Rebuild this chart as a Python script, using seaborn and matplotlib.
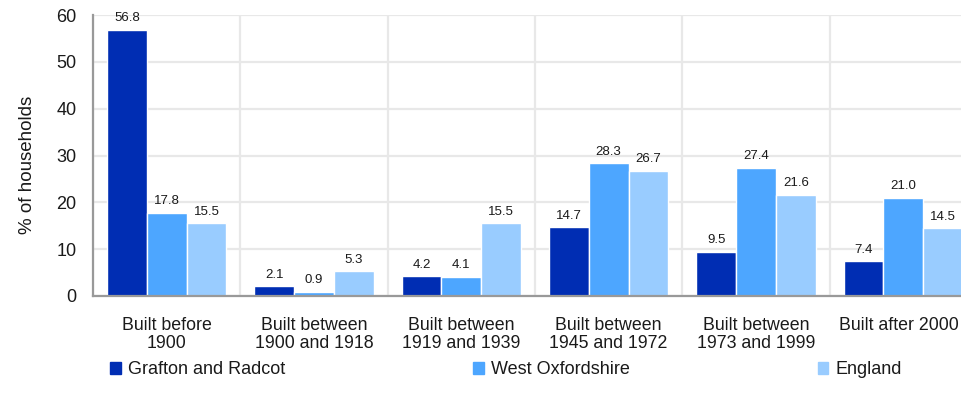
import matplotlib
matplotlib.use("Agg")
import matplotlib.pyplot as plt
import matplotlib.transforms as mtransforms
import seaborn as sns
import pandas as pd
import numpy as np

categories = [
    "Built before\n1900",
    "Built between\n1900 and 1918",
    "Built between\n1919 and 1939",
    "Built between\n1945 and 1972",
    "Built between\n1973 and 1999",
    "Built after 2000",
]
series_names = ["Grafton and Radcot", "West Oxfordshire", "England"]
grafton = [56.8, 2.1, 4.2, 14.7, 9.5, 7.4]
west_oxon = [17.8, 0.9, 4.1, 28.3, 27.4, 21.0]
england = [15.5, 5.3, 15.5, 26.7, 21.6, 14.5]
colors = ["#002DB3", "#4DA6FF", "#99CCFF"]

rows = []
for name, vals in zip(series_names, [grafton, west_oxon, england]):
    for cat, v in zip(categories, vals):
        rows.append({"category": cat, "area": name, "value": v})
df = pd.DataFrame(rows)

sns.set_style("white")
plt.rcParams["font.family"] = ["Liberation Sans", "DejaVu Sans"]

TEXT = "#1a1a1a"
FS = 13

fig = plt.figure(figsize=(9.62, 4.08), dpi=100)
W, H = 962, 408
ax = fig.add_axes([93 / W, (H - 296) / H, 884 / W, 281 / H])

sns.barplot(data=df, x="category", y="value", hue="area", order=categories,
            hue_order=series_names, palette=colors, width=0.81, saturation=1,
            ax=ax, legend=False, errorbar=None)

for cont in ax.containers:
    ax.bar_label(cont, fmt="%.1f", padding=4, fontsize=9.5, color=TEXT)

ax.set_xlim(-0.5, len(categories) - 0.5)
ax.set_ylim(0, 60)
ax.set_yticks(np.arange(0, 61, 10))
ax.set_xticks(np.arange(len(categories) + 1) - 0.5, minor=True)

ax.grid(axis="y", which="major", color="#e8e8e8", lw=1.6, zorder=0)
ax.grid(axis="x", which="minor", color="#e8e8e8", lw=1.6, zorder=0)
ax.set_axisbelow(True)

for s in ["top", "right"]:
    ax.spines[s].set_visible(False)
for s in ["left", "bottom"]:
    ax.spines[s].set_color("#999999")
    ax.spines[s].set_linewidth(1.6)

ax.tick_params(axis="y", which="major", length=5, width=1.3, color="#999999",
               labelsize=FS, labelcolor=TEXT, pad=7)
ax.tick_params(axis="x", which="major", length=0, pad=15, labelsize=12.8,
               labelcolor=TEXT)
ax.tick_params(axis="x", which="minor", length=5, width=1.3, color="#999999")
xlabels = ax.get_xticklabels()
for lbl in xlabels:
    lbl.set_linespacing(1.1)
# keep the last category label inside the canvas edge
xlabels[-1].set_transform(xlabels[-1].get_transform()
                          + mtransforms.ScaledTranslation(-3 / 72, 0, fig.dpi_scale_trans))

ax.set_xlabel("")
ax.set_ylabel("% of households", fontsize=13.5, color=TEXT)
ax.yaxis.set_label_coords(-0.064, 0.466)

handles = [plt.Rectangle((0, 0), 1, 1, color=c) for c in colors]
fig.legend(handles, series_names, loc="center left", ncol=3, mode="expand",
           bbox_to_anchor=(110 / W, (H - 370) / H, 792 / W, 0.0),
           frameon=False, fontsize=FS, handlelength=0.6, handleheight=0.6,
           handletextpad=0.4, borderaxespad=0, borderpad=0, labelcolor=TEXT)

fig.savefig("out.png", dpi=100)
